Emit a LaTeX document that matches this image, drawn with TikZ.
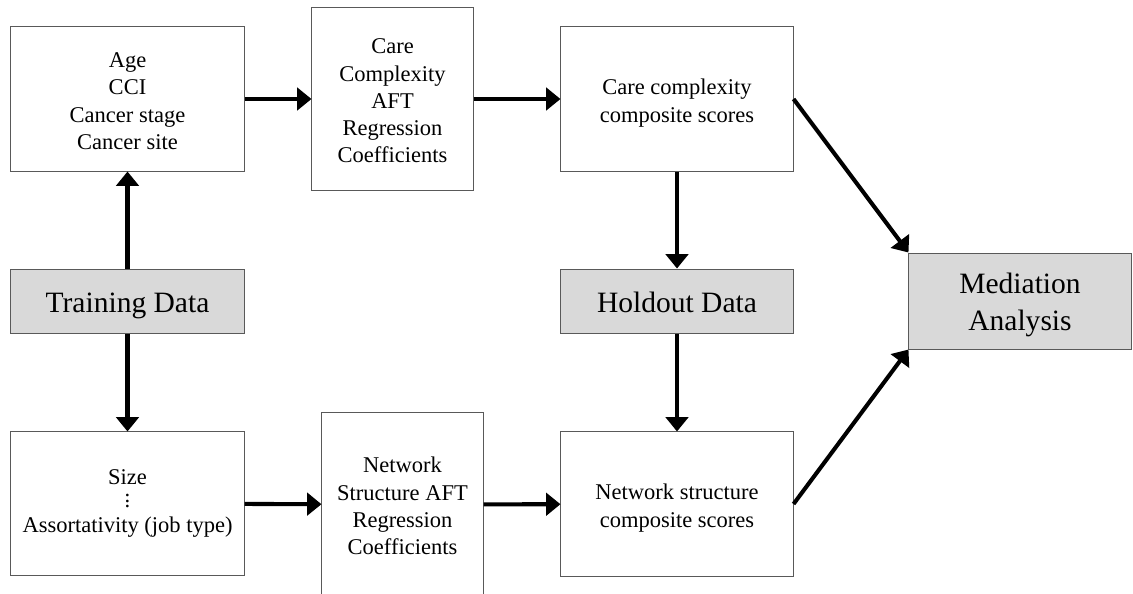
\documentclass[tikz,border=0pt]{standalone}
\usepackage{fontspec}
\setmainfont{Liberation Serif}
\usetikzlibrary{arrows.meta,positioning}

% box text, set a little lower as in the reference
\newcommand{\boxtext}[1]{\raisebox{-2.8pt}[\height][\depth]{\begin{tabular}{@{}c@{}}#1\end{tabular}}}

\tikzset{
  box/.style={draw=black!65, line width=0.7pt, fill=white, align=center, inner sep=2pt,
    font=\fontsize{16}{19.4}\selectfont},
  databox/.style={box, fill=black!15, font=\fontsize{21}{26.2}\selectfont},
  flow/.style={line width=2.9pt, -{Triangle[length=0.36cm,width=0.56cm]}}
}

\begin{document}
\begin{tikzpicture}[x=0.025cm, y=-0.025cm]
	\useasboundingbox (0,0) rectangle (1133,593);
	% left column
	\node[box, minimum width=5.825cm, minimum height=3.6cm] (clinical) at (127.5,99) {\boxtext{Age\\CCI\\Cancer stage\\Cancer site}};
	\node[databox, minimum width=5.825cm, minimum height=1.6cm] (train) at (127.5,301) {\boxtext{Training Data}};
	\node[box, minimum width=5.825cm, minimum height=3.575cm] (netvars) at (127.5,503.5) {Size\\[-3pt]$\vdots$\\[-2pt]Assortativity (job type)};
	% regression coefficients
	\node[box, minimum width=4.025cm, minimum height=4.55cm] (careaft) at (392.5,99) {\boxtext{Care\\Complexity\\AFT\\Regression\\Coefficients}};
	\node[box, minimum width=4.025cm, minimum height=4.575cm] (netaft) at (402.5,504.5) {\boxtext{Network\\Structure AFT\\Regression\\Coefficients}};
	% composite scores
	\node[box, minimum width=5.8cm, minimum height=3.6cm] (carescore) at (677,99) {\boxtext{Care complexity\\composite scores}};
	\node[databox, minimum width=5.8cm, minimum height=1.6cm] (holdout) at (677,301) {\boxtext{Holdout Data}};
	\node[box, minimum width=5.8cm, minimum height=3.6cm] (netscore) at (677,504) {\boxtext{Network structure\\composite scores}};
	% mediation
	\node[databox, minimum width=5.55cm, minimum height=2.4cm] (mediation) at (1020,301) {\boxtext{Mediation\\Analysis}};

	\draw[flow] (train) -- (clinical);
	\draw[flow] (train) -- (netvars);
	\draw[flow] (clinical) -- (careaft);
	\draw[flow] (careaft) -- (carescore);
	\draw[flow] (netvars) -- (netaft);
	\draw[flow] (netaft) -- (netscore);
	\draw[flow] (carescore) -- (holdout);
	\draw[flow] (holdout) -- (netscore);
	\draw[flow] (carescore.east) -- (mediation.north west);
	\draw[flow] (netscore.east) -- (mediation.south west);
\end{tikzpicture}
\end{document}
